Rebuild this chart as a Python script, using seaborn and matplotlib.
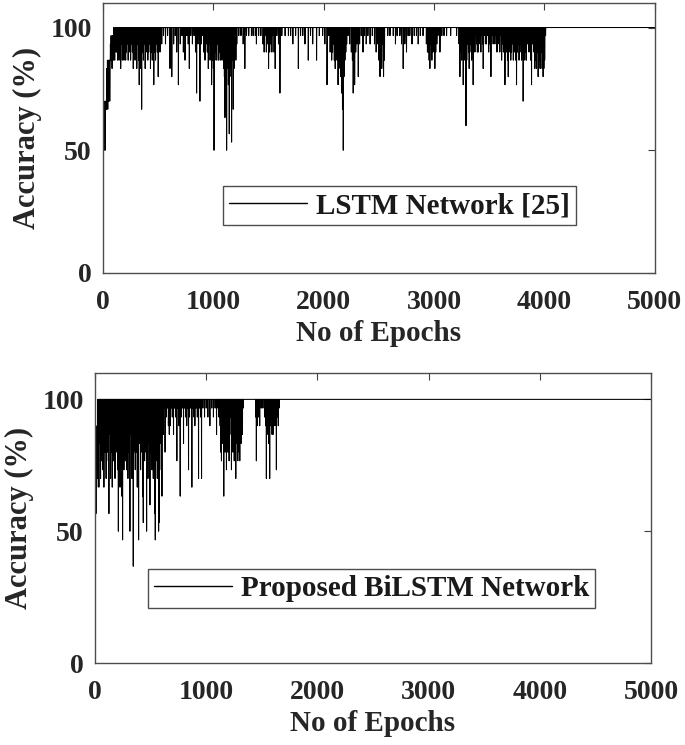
import numpy as np
import seaborn as sns
import matplotlib.pyplot as plt

# ---- LSTM network [25] (top panel) ----
# early ramp, read point by point
lstm_early_epochs = [0, 4, 6, 8, 10, 13, 16, 19, 22, 25, 28, 31, 34, 37, 40, 43, 46, 49, 52,
                     55, 58, 61, 64, 67, 70, 73, 76, 79, 82, 85, 88, 91, 94, 97, 100, 103, 106,
                     109, 112, 115, 118]
lstm_early_acc = [33.3, 50, 66.7, 50, 70, 53.3, 66.7, 50, 70, 66.7, 70, 66.7, 83.3, 70, 86.7, 66.7,
                  83.3, 70, 86.7, 73.3, 86.7, 70, 83.3, 93.3, 86.7, 96.7, 86.7, 93.3, 83.3, 96.7,
                  90, 96.7, 86.7, 100, 90, 96.7, 86.7, 100, 93.3, 100, 90]
# after the ramp accuracy sits at 100 apart from these dips
lstm_dip_epochs = [
    125, 132, 140, 146, 152, 160, 168, 175, 182, 190, 198, 205, 212, 220, 228, 236, 244, 250, 258,
    266, 274, 282, 290, 298, 306, 314, 322, 328, 336, 343, 350, 358, 366, 374, 382, 390, 398, 406,
    414, 422, 430, 438, 446, 453, 460, 468, 476, 484, 492, 500, 508, 516, 524, 532,
    548, 566, 585, 607, 615, 623, 640, 655, 668, 683, 700, 715, 728, 743, 760, 772, 782, 795, 810,
    825, 838, 848, 860, 870, 878, 890, 900, 912, 924, 935, 945, 954, 962, 970, 978, 984, 992, 1000,
    1006, 1014, 1022, 1030, 1038, 1046, 1054, 1062, 1070, 1078, 1086, 1094, 1100, 1105, 1112, 1120,
    1128, 1136, 1144, 1150, 1158, 1165, 1172, 1180, 1188, 1196, 1204, 1212,
    1230, 1250, 1270, 1285, 1300, 1320, 1345, 1360, 1380, 1390, 1410, 1430, 1450, 1460, 1470, 1480,
    1490, 1500, 1510, 1520, 1530, 1540, 1550, 1560, 1575, 1590, 1603, 1620, 1650, 1680, 1700, 1720,
    1745, 1770, 1790, 1810, 1830, 1860, 1880, 1900, 1935, 1960, 1990, 2010, 2030, 2045,
    2058, 2065, 2072, 2080, 2088, 2096, 2104, 2112, 2120, 2130, 2138, 2146, 2154, 2162, 2170, 2177,
    2184, 2192, 2200, 2208,
    2220, 2235, 2250, 2260, 2267, 2280, 2290, 2300, 2313, 2325, 2340, 2356, 2370, 2385, 2400, 2420,
    2440, 2460, 2475, 2490, 2500, 2510, 2518, 2526, 2534, 2542, 2550,
    2580, 2600, 2630, 2650, 2665, 2690, 2705, 2720, 2735, 2750, 2765, 2780, 2800, 2820, 2840, 2856,
    2875, 2900, 2930, 2940, 2947, 2955, 2962, 2970, 2980, 2990, 3000, 3007, 3015, 3025, 3035, 3053,
    3070, 3090, 3113, 3150, 3204,
    3226, 3234, 3242, 3250, 3258, 3264, 3272, 3280, 3289, 3296, 3304, 3312, 3318, 3324, 3332, 3340,
    3347, 3354, 3362, 3370, 3378, 3386, 3392, 3400, 3408, 3416, 3424, 3432, 3440, 3445, 3455, 3465,
    3475, 3485, 3495, 3505, 3515, 3525, 3535, 3545, 3551, 3560, 3570, 3580, 3588, 3596, 3604, 3612,
    3620, 3628, 3635, 3642, 3650, 3658, 3665, 3672, 3680, 3688, 3695, 3702, 3710, 3718, 3726, 3734,
    3740, 3747, 3755, 3763, 3770, 3778, 3786, 3793, 3800, 3807, 3815, 3822, 3830, 3837, 3845, 3852,
    3860, 3868, 3876, 3883, 3890, 3898, 3905, 3913, 3920, 3928, 3935, 3943, 3950, 3958, 3965, 3972,
    3980, 3988, 3995, 4002, 4010]
lstm_dip_acc = [
    90, 86.7, 93.3, 86.7, 90, 83.3, 93.3, 86.7, 90, 86.7, 93.3, 86.7, 90, 93.3, 86.7, 90, 96.7, 86.7, 93.3,
    90, 83.3, 93.3, 86.7, 90, 83.3, 93.3, 86.7, 76.7, 90, 83.3, 66.7, 90, 86.7, 93.3, 83.3, 90, 93.3, 86.7,
    90, 93.3, 83.3, 90, 86.7, 93.3, 76.7, 90, 86.7, 93.3, 90, 80, 93.3, 90, 96.7, 93.3,
    96.7, 93.3, 96.7, 83.3, 96.7, 80, 93.3, 96.7, 90, 76.7, 93.3, 96.7, 90, 86.7, 96.7, 93.3, 83.3, 96.7, 93.3,
    96.7, 90, 73.3, 93.3, 96.7, 70, 93.3, 96.7, 90, 86.7, 93.3, 90, 83.3, 93.3, 86.7, 90, 76.7, 86.7, 83.3,
    50, 86.7, 90, 86.7, 93.3, 86.7, 90, 86.7, 93.3, 86.7, 90, 83.3, 80, 63.3, 86.7, 50,
    83.3, 76.7, 56.7, 80, 83.3, 53.3, 86.7, 66.7, 83.3, 90, 86.7, 93.3,
    96.7, 96.7, 93.3, 83.3, 96.7, 96.7, 96.7, 96.7, 96.7, 93.3, 96.7, 96.7, 93.3, 90, 96.7, 90,
    93.3, 83.3, 90, 93.3, 90, 96.7, 90, 83.3, 96.7, 93.3, 73.3, 96.7, 96.7, 96.7, 96.7, 93.3,
    96.7, 83.3, 96.7, 96.7, 93.3, 86.7, 96.7, 93.3, 86.7, 96.7, 96.7, 93.3, 76.7, 96.7,
    90, 93.3, 86.7, 90, 93.3, 86.7, 83.3, 90, 86.7, 76.7, 83.3, 86.7, 80, 73.3, 66.7, 50,
    80, 86.7, 90, 93.3,
    96.7, 93.3, 90, 86.7, 73.3, 76.7, 90, 93.3, 80, 93.3, 96.7, 90, 96.7, 93.3, 96.7, 93.3,
    96.7, 93.3, 90, 93.3, 86.7, 80, 90, 83.3, 93.3, 80, 86.7,
    96.7, 96.7, 96.7, 93.3, 96.7, 96.7, 93.3, 83.3, 93.3, 90, 96.7, 96.7, 93.3, 96.7, 96.7, 93.3,
    96.7, 96.7, 93.3, 90, 90, 86.7, 83.3, 93.3, 86.7, 90, 93.3, 83.3, 90, 93.3, 96.7, 90,
    96.7, 96.7, 96.7, 96.7, 96.7,
    93.3, 80, 90, 86.7, 93.3, 76.7, 86.7, 90, 60, 86.7, 93.3, 90, 83.3, 90, 93.3, 86.7,
    90, 76.7, 93.3, 90, 96.7, 93.3, 90, 90, 96.7, 93.3, 90, 96.7, 93.3, 83.3, 96.7, 93.3,
    93.3, 96.7, 90, 93.3, 80, 96.7, 93.3, 96.7, 93.3, 96.7, 90, 96.7, 93.3, 90, 96.7, 86.7,
    93.3, 90, 96.7, 76.7, 93.3, 90, 86.7, 80, 93.3, 90, 86.7, 90, 93.3, 86.7, 90, 93.3,
    86.7, 76.7, 90, 93.3, 86.7, 90, 93.3, 86.7, 90, 70, 93.3, 86.7, 90, 86.7, 93.3, 96.7,
    90, 93.3, 86.7, 76.7, 93.3, 96.7, 90, 83.3, 86.7, 83.3, 90, 80, 83.3, 86.7, 83.3, 90,
    83.3, 80, 83.3, 86.7, 96.7]

# ---- Proposed BiLSTM network (bottom panel) ----
bilstm_early_epochs = [0, 3, 6, 9, 12, 15, 18, 21, 24]
bilstm_early_acc = [16.7, 53.3, 70, 56.7, 76.7, 66.7, 90, 70, 100]
bilstm_dip_epochs = [
    25, 30, 35, 40, 45, 50, 55, 60, 65, 70, 75, 80, 85, 90, 95, 100, 105, 110, 115, 120, 125, 130,
    135, 140, 145, 150, 155, 160, 165, 170, 175, 180, 185, 190, 195, 200, 205, 210, 215, 220, 225,
    230, 235, 240, 248, 255, 260, 265, 272, 278, 284, 290, 296, 302, 308, 314, 320, 326, 332, 338,
    344, 350, 356, 362, 368, 374, 380, 386, 392, 398, 404, 410, 416, 422, 428, 434, 440, 446, 452,
    458, 464, 470, 476, 482, 488, 494, 500, 506, 512, 518, 524, 530, 536, 542, 548, 554, 560, 566,
    572, 578, 584, 590, 596, 602, 608, 614, 620,
    630, 640, 650, 660, 668, 676, 685, 695, 706, 715, 725, 736, 745, 755, 766, 775, 785, 796, 805,
    815, 825, 833, 841, 850, 860, 871, 880, 890, 898, 910, 920, 931, 940, 950, 958, 970, 985, 1000,
    1015, 1033, 1050, 1065, 1080, 1093, 1105, 1115,
    1125, 1131, 1137, 1143, 1149, 1158, 1164, 1170, 1176, 1182, 1188, 1194, 1200, 1206, 1212, 1218,
    1227, 1233, 1240, 1246, 1252, 1258, 1266, 1272, 1278, 1284, 1290, 1296, 1302, 1308, 1314, 1320,
    1326, 1332,
    1445, 1451, 1458, 1465, 1472, 1481, 1495, 1510, 1525, 1535, 1541, 1548, 1555, 1562, 1571, 1578,
    1585, 1592, 1601, 1610, 1618, 1625, 1631, 1640, 1648, 1655]
bilstm_dip_acc = [
    73.3, 86.7, 66.7, 83.3, 93.3, 70, 86.7, 76.7, 90, 73.3, 93.3, 66.7, 86.7, 80, 93.3, 70, 86.7, 80, 93.3, 76.7, 56.7, 86.7,
    93.3, 70, 86.7, 80, 66.7, 90, 76.7, 86.7, 93.3, 70, 86.7, 80, 90, 86.7, 73.3, 50, 86.7, 80, 66.7,
    90, 76.7, 63.3, 46.7, 86.7, 73.3, 93.3, 76.7, 90, 73.3, 86.7, 70, 90, 80, 50, 86.7, 93.3, 70, 86.7,
    36.7, 80, 93.3, 73.3, 86.7, 80, 66.7, 90, 46.7, 83.3, 93.3, 73.3, 86.7, 80, 63.3, 53.3, 86.7, 76.7, 93.3,
    80, 50, 86.7, 70, 83.3, 90, 60, 80, 93.3, 73.3, 86.7, 70, 83.3, 56.7, 46.7, 76.7, 86.7, 70, 80,
    50, 53.3, 83.3, 90, 73.3, 63.3, 93.3, 86.7, 96.7,
    80, 93.3, 96.7, 90, 86.7, 90, 96.7, 93.3, 86.7, 96.7, 93.3, 76.7, 96.7, 90, 63.3, 93.3, 96.7, 83.3, 96.7,
    93.3, 90, 96.7, 73.3, 93.3, 96.7, 66.7, 96.7, 93.3, 90, 96.7, 93.3, 70, 96.7, 93.3, 70, 96.7, 93.3, 96.7,
    93.3, 90, 96.7, 93.3, 96.7, 86.7, 96.7, 93.3,
    90, 80, 76.7, 90, 83.3, 63.3, 86.7, 80, 90, 73.3, 86.7, 80, 90, 76.7, 86.7, 93.3,
    73.3, 86.7, 80, 90, 76.7, 86.7, 70, 83.3, 90, 76.7, 86.7, 80, 76.7, 90, 83.3, 93.3,
    86.7, 96.7,
    93.3, 76.7, 90, 96.7, 93.3, 90, 96.7, 96.7, 93.3, 90, 70, 86.7, 93.3, 83.3, 70, 90,
    93.3, 86.7, 86.7, 93.3, 90, 96.7, 73.3, 93.3, 90, 96.7]

LAST_EPOCH = 5000


def build_series(early_epochs, early_acc, dip_epochs, dip_acc):
    # accuracy is 100 for every epoch after the ramp except the listed dips
    start = early_epochs[-1] + 1
    epochs = np.arange(start, LAST_EPOCH + 1)
    acc = np.full(epochs.shape, 100.0)
    acc[np.array(dip_epochs) - start] = dip_acc
    return np.concatenate([early_epochs, epochs]), np.concatenate([early_acc, acc])


sns.set_style("white")
plt.rcParams['font.family'] = ['Liberation Serif', 'DejaVu Serif']
plt.rcParams['font.weight'] = 'bold'
plt.rcParams['axes.labelweight'] = 'bold'

fig = plt.figure(figsize=(6.85, 7.45), dpi=100)
ax1 = fig.add_axes([0.1504, 0.6336, 0.8055, 0.3624])
ax2 = fig.add_axes([0.1387, 0.1100, 0.8117, 0.3893])

panels = [
    (ax1, lstm_early_epochs, lstm_early_acc, lstm_dip_epochs, lstm_dip_acc,
     "LSTM Network [25]", (0.217, 0.178)),
    (ax2, bilstm_early_epochs, bilstm_early_acc, bilstm_dip_epochs, bilstm_dip_acc,
     "Proposed BiLSTM Network", (0.095, 0.19)),
]

for ax, ee, ea, de, da, name, anchor in panels:
    x, y = build_series(ee, ea, de, da)
    sns.lineplot(x=x, y=y, ax=ax, color="black", linewidth=0.75, estimator=None,
                 label=name)
    ax.set_xlim(0, 5000)
    ax.set_ylim(0, 110)
    ax.set_xticks(range(0, 5001, 1000))
    ax.set_yticks([0, 50, 100])
    ax.tick_params(direction="in", length=5, width=0.8, top=True, right=True,
                   colors="0.25", labelcolor="0.15", labelsize=20)
    ax.tick_params(axis="x", pad=12)
    ax.tick_params(axis="y", pad=8)
    for s in ax.spines.values():
        s.set_color("0.3")
        s.set_linewidth(1.0)
    ax.set_xlabel("No of Epochs", fontsize=21, color="0.15", labelpad=4)
    ax.set_ylabel("Accuracy (%)", fontsize=22, color="0.15", labelpad=6)
    leg = ax.legend(loc="lower left", bbox_to_anchor=anchor, borderaxespad=0,
                    fontsize=21, handlelength=2.7, handletextpad=0.3,
                    borderpad=0.2, fancybox=False, framealpha=1)
    leg.get_frame().set_edgecolor("0.3")
    leg.get_frame().set_linewidth(1.0)
    leg.get_lines()[0].set_linewidth(1.0)
    for t in leg.get_texts():
        t.set_color("0.1")

fig.savefig("out.png", dpi=100)
